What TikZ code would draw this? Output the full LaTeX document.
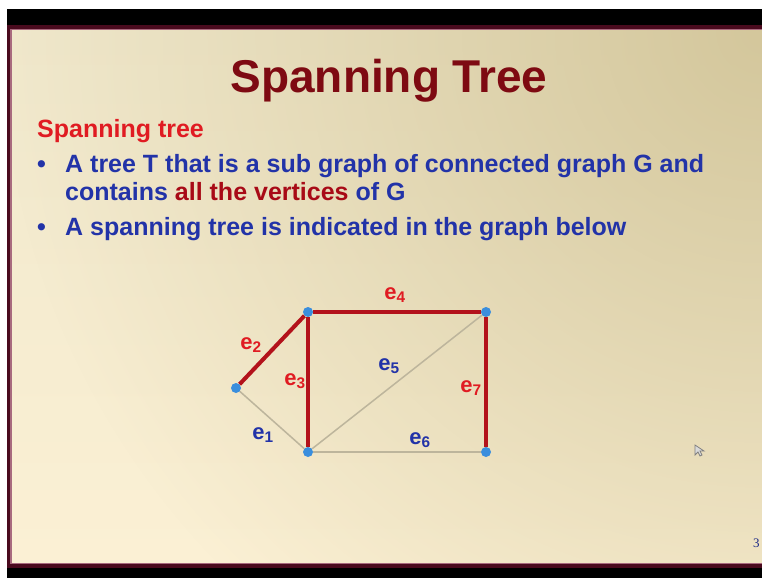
\documentclass[tikz,border=0pt]{standalone}
\usepackage{fontspec}
\usetikzlibrary{fadings}
\setmainfont{Liberation Sans}
\newfontfamily\pagefont{Liberation Serif}
\definecolor{titlered}{HTML}{7E0A12}
\definecolor{headred}{HTML}{E01B22}
\definecolor{darkred}{HTML}{A80A16}
\definecolor{textblue}{HTML}{2233A8}
\definecolor{edgered}{HTML}{B3121B}
\definecolor{edgegray}{HTML}{BDB59C}
\definecolor{dotblue}{HTML}{3A8EDD}
\definecolor{bgtan}{HTML}{D4C79C}
\definecolor{bgtop}{HTML}{F0E8CC}
\definecolor{bgcream}{HTML}{FBF0D4}
\definecolor{framemaroon}{HTML}{4A0A1E}
\definecolor{framepink}{HTML}{A86A7E}
\tikzfading[name=tanfade, inner color=transparent!0, outer color=transparent!100]
\begin{document}
\begin{tikzpicture}[x=1pt,y=-1pt,
  txt/.style={inner sep=0pt, anchor=base west, font=\bfseries\fontsize{25}{28}\selectfont},
  vtx/.style={circle, fill=dotblue, inner sep=0pt, minimum size=10pt},
  treeedge/.style={draw=edgered, line width=4pt},
  otheredge/.style={draw=edgegray, line width=1.5pt},
  elabel/.style={inner sep=0pt, font=\bfseries\fontsize{22}{24}\selectfont}]
\useasboundingbox (0,0) rectangle (762,578);
\fill[white] (0,0) rectangle (762,578);
\fill[black] (7,9) rectangle (762,578);
\fill[framemaroon] (7,25) rectangle (762,568);
\fill[framepink] (10,29) rectangle (762,564);
% slide background
\shade[top color=bgtop, bottom color=bgcream] (12,31) rectangle (762,562);
\begin{scope}
  \clip (12,31) rectangle (762,562);
  \fill[bgtan, path fading=tanfade] (762,31) circle (760);
\end{scope}

% title and text
\node[inner sep=0pt, anchor=base, text=titlered, font=\bfseries\fontsize{46}{50}\selectfont] (title) at (389,92) {Spanning Tree};
\node[txt, text=headred] (head) at (37,137) {Spanning tree};
\node[txt, text=textblue] (b1) at (37,172) {\textbullet};
\node[txt, text=textblue] (l1) at (65,172) {A tree T that is a sub graph of connected graph G and};
\node[txt, text=textblue] (l2) at (65,200) {contains \textcolor{darkred}{all the vertices} of G};
\node[txt, text=textblue] (b2) at (37,235) {\textbullet};
\node[txt, text=textblue] (l3) at (65,235) {A spanning tree is indicated in the graph below};

% graph
\node[vtx] (A) at (236,388) {};
\node[vtx] (B) at (308,312) {};
\node[vtx] (C) at (486,312) {};
\node[vtx] (D) at (308,452) {};
\node[vtx] (E) at (486,452) {};
\draw[otheredge] (A) -- (D);
\draw[otheredge] (D) -- (C);
\draw[otheredge] (D) -- (E);
\draw[treeedge] (A) -- (B);
\draw[treeedge] (B) -- (D);
\draw[treeedge] (B) -- (C);
\draw[treeedge] (C) -- (E);

\node[elabel, text=headred] (le2) at (251,345) {e\textsubscript{2}};
\node[elabel, text=headred] (le3) at (295,381) {e\textsubscript{3}};
\node[elabel, text=headred] (le4) at (395,295) {e\textsubscript{4}};
\node[elabel, text=textblue] (le5) at (389,366) {e\textsubscript{5}};
\node[elabel, text=headred] (le7) at (471,388) {e\textsubscript{7}};
\node[elabel, text=textblue] (le1) at (263,435) {e\textsubscript{1}};
\node[elabel, text=textblue] (le6) at (420,440) {e\textsubscript{6}};

% page number and cursor
\node[inner sep=0pt, anchor=base west, text=textblue!80!black, font=\pagefont\fontsize{13}{14}\selectfont] (pg) at (753,547) {3};
\filldraw[draw=gray, fill=gray!30, line width=0.8pt] (695,445) -- (695,455) -- (698,452) -- (700,456) -- (702,455) -- (700,451) -- (704,451) -- cycle;
\end{tikzpicture}
\end{document}
